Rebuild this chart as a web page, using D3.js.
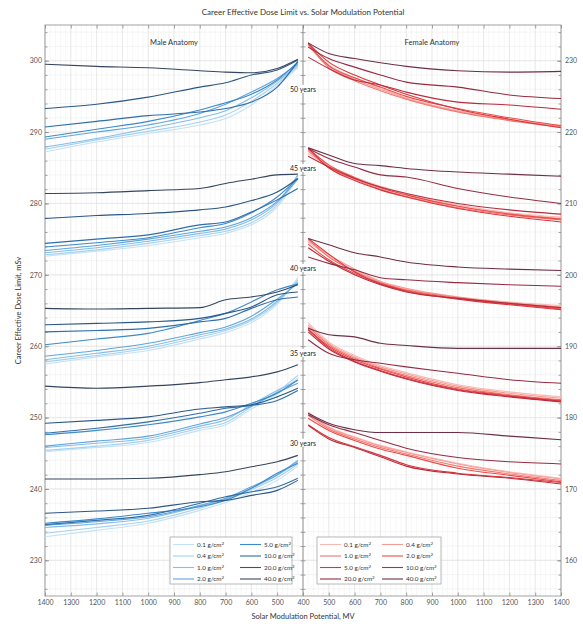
<!DOCTYPE html>
<html>
<head>
<meta charset="utf-8">
<script src="https://cdn.jsdelivr.net/npm/d3@7"></script>
<style>
body { margin: 0; background: #fff; }
text { font-family: Lato, "Open Sans", sans-serif; }
</style>
</head>
<body>
<svg id="chart" width="583" height="624"></svg>
<script>
// solar modulation potential (MV) where each curve is sampled
var mv = [420, 500, 600, 700, 800, 1000, 1200, 1400];
var shielding = ["0.1", "0.4", "1.0", "2.0", "5.0", "10.0", "20.0", "40.0"];
var ages = [50, 45, 40, 35, 30];
var ageLabelMale = [296.0, 284.9, 270.9, 259.0, 246.4];

var mvTicks = [1400, 1300, 1200, 1100, 1000, 900, 800, 700, 600, 500, 400];
var maleTicks = [230, 240, 250, 260, 270, 280, 290, 300];
var femaleTicks = [160, 170, 180, 190, 200, 210, 220, 230];

// male anatomy, rows = shielding 0.1 .. 40.0 g/cm2
var male50 = [
  [299.0, 296.5, 293.8, 291.9, 291.0, 289.8, 288.6, 287.2],
  [299.2, 296.8, 294.3, 292.4, 291.4, 290.1, 288.9, 287.6],
  [299.4, 297.1, 294.8, 293.0, 292.0, 290.5, 289.1, 287.9],
  [299.6, 297.5, 295.6, 293.9, 292.6, 291.0, 290.0, 289.0],
  [299.8, 297.3, 295.3, 294.1, 293.1, 291.5, 290.4, 289.3],
  [299.9, 296.3, 294.2, 293.3, 292.8, 292.3, 291.5, 290.7],
  [300.1, 298.7, 298.0, 296.9, 296.3, 294.9, 293.9, 293.3],
  [300.2, 298.9, 298.3, 298.4, 298.6, 299.0, 299.2, 299.5]
];
var male45 = [
  [283.6, 279.5, 277.0, 275.8, 275.2, 274.1, 273.3, 272.6],
  [283.8, 279.8, 277.3, 276.1, 275.5, 274.4, 273.5, 272.8],
  [284.0, 280.1, 277.7, 276.4, 275.8, 274.7, 273.8, 273.1],
  [283.4, 280.3, 278.0, 276.7, 276.1, 275.0, 274.1, 273.4],
  [283.5, 280.9, 278.7, 277.2, 276.6, 275.2, 274.5, 273.9],
  [282.1, 280.5, 278.8, 277.4, 277.0, 275.6, 275.0, 274.4],
  [283.5, 281.6, 280.4, 279.5, 279.1, 278.6, 278.3, 277.9],
  [284.1, 284.0, 283.4, 282.8, 282.1, 281.8, 281.5, 281.4]
];
var male40 = [
  [269.6, 265.9, 263.3, 261.9, 261.0, 259.4, 258.5, 257.5],
  [269.3, 266.1, 263.6, 262.2, 261.3, 259.7, 258.7, 257.8],
  [269.0, 266.3, 263.8, 262.4, 261.6, 260.0, 259.0, 258.1],
  [268.8, 266.6, 264.2, 262.7, 261.9, 260.4, 259.4, 258.6],
  [268.7, 267.9, 266.2, 264.6, 263.6, 261.8, 261.0, 260.2],
  [266.9, 266.5, 265.3, 263.9, 263.4, 262.5, 262.2, 262.0],
  [267.6, 267.2, 265.5, 264.6, 263.9, 263.4, 263.2, 263.0],
  [268.6, 267.6, 266.9, 266.5, 265.4, 265.3, 265.2, 265.3]
];
var male35 = [
  [255.6, 253.3, 251.2, 249.0, 248.2, 246.5, 245.8, 245.2],
  [255.9, 253.6, 251.5, 249.3, 248.5, 246.8, 246.0, 245.4],
  [255.2, 253.8, 251.8, 249.7, 248.8, 247.1, 246.4, 245.8],
  [254.8, 253.5, 251.6, 250.0, 249.1, 247.4, 246.7, 246.0],
  [255.3, 253.4, 252.0, 250.8, 250.1, 249.0, 248.2, 247.6],
  [253.8, 252.4, 251.7, 251.3, 250.6, 249.4, 248.5, 247.8],
  [254.1, 252.9, 251.8, 251.5, 251.2, 250.1, 249.6, 249.2],
  [257.4, 256.4, 255.7, 255.3, 254.9, 254.4, 254.1, 254.4]
];
var male30 = [
  [243.2, 241.2, 239.5, 238.1, 237.0, 235.2, 234.2, 233.3],
  [243.5, 241.6, 239.9, 238.4, 237.3, 235.5, 234.6, 233.8],
  [243.8, 241.9, 240.1, 238.6, 237.6, 235.9, 235.1, 234.6],
  [244.0, 242.0, 240.3, 238.7, 237.7, 236.1, 235.4, 234.9],
  [243.6, 242.2, 240.1, 238.4, 237.5, 236.6, 235.8, 235.2],
  [241.5, 240.3, 239.6, 238.9, 238.0, 236.3, 235.6, 235.0],
  [241.2, 239.8, 239.1, 238.4, 238.2, 237.3, 236.9, 236.6],
  [244.7, 243.8, 243.1, 242.4, 242.0, 241.5, 241.4, 241.4]
];

// female anatomy
var female50 = [
  [232.0, 229.4, 227.6, 226.2, 224.8, 223.0, 221.8, 220.9],
  [232.2, 229.2, 227.4, 226.0, 224.7, 222.9, 221.7, 220.8],
  [232.3, 229.0, 227.2, 225.8, 224.6, 222.8, 221.6, 220.7],
  [232.4, 229.3, 227.6, 226.3, 225.0, 223.3, 222.0, 220.9],
  [232.5, 229.8, 228.0, 226.6, 225.3, 223.2, 221.8, 220.6],
  [230.5, 228.9, 227.3, 226.6, 225.6, 224.2, 223.8, 223.2],
  [231.9, 230.3, 229.1, 228.0, 227.0, 226.3, 225.2, 224.7],
  [232.5, 231.0, 230.3, 229.7, 229.2, 228.6, 228.4, 228.5]
];
var female45 = [
  [217.0, 215.3, 213.7, 212.4, 211.4, 209.8, 208.7, 208.1],
  [217.3, 215.2, 213.6, 212.2, 211.2, 209.6, 208.6, 207.9],
  [217.5, 215.0, 213.4, 212.0, 211.0, 209.4, 208.4, 207.7],
  [217.7, 215.4, 213.6, 212.2, 211.2, 209.6, 208.5, 207.8],
  [217.8, 215.0, 213.2, 211.9, 210.9, 209.3, 208.2, 207.4],
  [216.6, 215.1, 213.5, 212.3, 211.4, 210.0, 209.1, 208.5],
  [217.7, 216.3, 215.1, 214.0, 213.7, 212.1, 210.9, 210.0],
  [217.8, 216.8, 215.6, 215.3, 214.9, 214.4, 214.1, 213.8]
];
var female40 = [
  [204.6, 202.6, 200.6, 199.0, 198.0, 196.9, 196.2, 195.7],
  [204.8, 202.8, 200.8, 199.1, 198.1, 196.9, 196.1, 195.5],
  [205.0, 202.5, 200.5, 198.9, 197.9, 196.8, 196.0, 195.3],
  [204.3, 202.1, 200.2, 198.8, 197.8, 196.7, 195.9, 195.2],
  [205.1, 202.9, 200.4, 198.7, 197.7, 196.6, 195.8, 195.1],
  [203.8, 201.9, 200.0, 198.6, 197.6, 196.7, 196.0, 195.4],
  [202.5, 201.6, 200.7, 199.6, 199.3, 198.9, 198.6, 198.4],
  [205.1, 204.2, 203.1, 202.5, 201.8, 201.1, 200.8, 200.6]
];
var female35 = [
  [193.3, 190.6, 188.7, 187.3, 186.3, 184.6, 183.6, 182.9],
  [193.0, 190.4, 188.5, 187.1, 186.1, 184.4, 183.4, 182.7],
  [192.7, 190.2, 188.3, 186.9, 185.9, 184.2, 183.2, 182.5],
  [192.4, 190.0, 188.1, 186.8, 185.7, 184.0, 183.1, 182.4],
  [192.3, 189.8, 187.9, 186.6, 185.5, 183.9, 183.0, 182.3],
  [192.0, 189.6, 187.8, 186.5, 185.4, 183.8, 182.9, 182.2],
  [190.9, 189.0, 188.1, 187.6, 187.1, 186.2, 185.3, 184.8],
  [192.5, 191.6, 191.3, 190.4, 190.1, 189.7, 189.7, 189.7]
];
var female30 = [
  [180.8, 178.7, 177.3, 176.1, 175.2, 173.6, 172.4, 171.5],
  [180.6, 178.6, 177.2, 176.0, 175.1, 173.5, 172.3, 171.4],
  [180.3, 178.4, 177.0, 175.8, 174.9, 173.2, 172.1, 171.2],
  [179.9, 178.2, 176.8, 175.6, 174.7, 172.9, 171.9, 171.0],
  [179.0, 177.2, 175.9, 174.7, 173.4, 172.2, 171.6, 170.9],
  [178.9, 177.0, 175.8, 174.5, 173.2, 172.1, 171.5, 170.7],
  [180.4, 179.0, 177.9, 176.8, 175.7, 174.4, 173.8, 173.5],
  [180.6, 179.2, 178.3, 177.9, 177.9, 177.9, 177.4, 176.9]
];

var maleColors = ["#c4e2f6", "#a5d1f0", "#84bde8", "#5fa5dc", "#3d8aca", "#2f6ea8", "#2b5786", "#34465f"];
var femaleColors = ["#fbb8b2", "#f79a93", "#f3756f", "#ec4c48", "#d8343a", "#b92c3d", "#962b43", "#6e2e48"];

var maleGroups = [male50, male45, male40, male35, male30];
var femaleGroups = [female50, female45, female40, female35, female30];

var svg = d3.select("#chart");
var plotTop = 25, plotBottom = 596, plotLeft = 45, plotMid = 303, plotRight = 561;

var xMale = d3.scaleLinear().domain([1400, 400]).range([plotLeft, plotMid]);
var xFemale = d3.scaleLinear().domain([400, 1400]).range([plotMid, plotRight]);
var yMale = d3.scaleLinear().domain([225, 305]).range([plotBottom, plotTop]);
var yFemale = d3.scaleLinear().domain([155, 235]).range([plotBottom, plotTop]);

var axisColor = "#8c8c8c";
var fmt = d3.format("d");

function drawGrid(x, y) {
  var g = svg.append("g");
  g.selectAll(".vminor").data(d3.range(400, 1401, 20))
    .enter().append("line")
    .attr("x1", function(d) { return x(d) }).attr("x2", function(d) { return x(d) })
    .attr("y1", plotTop).attr("y2", plotBottom)
    .style("stroke", "#f2f2f2").style("stroke-width", 0.6);
  g.selectAll(".hminor").data(d3.range(y.domain()[0] + 1, y.domain()[1], 2))
    .enter().append("line")
    .attr("x1", x.range()[0]).attr("x2", x.range()[1])
    .attr("y1", function(d) { return y(d) }).attr("y2", function(d) { return y(d) })
    .style("stroke", "#efefef").style("stroke-width", 0.6);
  g.selectAll(".vmajor").data(d3.range(400, 1401, 100))
    .enter().append("line")
    .attr("x1", function(d) { return x(d) }).attr("x2", function(d) { return x(d) })
    .attr("y1", plotTop).attr("y2", plotBottom)
    .style("stroke", "#e3e3e3").style("stroke-width", 0.7);
  g.selectAll(".hmajor").data(d3.range(y.domain()[0] + 5, y.domain()[1], 10))
    .enter().append("line")
    .attr("x1", x.range()[0]).attr("x2", x.range()[1])
    .attr("y1", function(d) { return y(d) }).attr("y2", function(d) { return y(d) })
    .style("stroke", "#e3e3e3").style("stroke-width", 0.7);
}

drawGrid(xMale, yMale);
drawGrid(xFemale, yFemale);

function styleAxis(g) {
  g.select(".domain").remove();
  g.selectAll("line").style("stroke", axisColor).style("stroke-width", 0.8);
  g.selectAll("text").style("fill", "#555").style("font-size", "7px")
    .style("font-family", "Lato, 'Open Sans', sans-serif");
}

// bottom axes (400 label shared at the divider)
svg.append("g").attr("transform", "translate(0," + plotBottom + ")")
  .call(d3.axisBottom(xMale).tickValues(mvTicks).tickFormat(fmt).tickSize(-3.5).tickPadding(4))
  .call(styleAxis);
svg.append("g").attr("transform", "translate(0," + plotBottom + ")")
  .call(d3.axisBottom(xFemale).tickValues(mvTicks.filter(function(d) { return d > 400 })).tickFormat(fmt).tickSize(-3.5).tickPadding(4))
  .call(styleAxis);
// top axes, ticks only
svg.append("g").attr("transform", "translate(0," + plotTop + ")")
  .call(d3.axisTop(xMale).tickValues(mvTicks).tickSize(-3.5).tickFormat(""))
  .call(styleAxis);
svg.append("g").attr("transform", "translate(0," + plotTop + ")")
  .call(d3.axisTop(xFemale).tickValues(mvTicks).tickSize(-3.5).tickFormat(""))
  .call(styleAxis);

// left axis (male)
svg.append("g").attr("transform", "translate(" + plotLeft + ",0)")
  .call(d3.axisLeft(yMale).tickValues(d3.range(226, 305, 2)).tickSize(-2.5).tickFormat(""))
  .call(styleAxis);
svg.append("g").attr("transform", "translate(" + plotLeft + ",0)")
  .call(d3.axisLeft(yMale).tickValues(maleTicks).tickFormat(fmt).tickSize(-4).tickPadding(3))
  .call(styleAxis);
// right axis (female)
svg.append("g").attr("transform", "translate(" + plotRight + ",0)")
  .call(d3.axisRight(yFemale).tickValues(d3.range(156, 235, 2)).tickSize(-2.5).tickFormat(""))
  .call(styleAxis);
svg.append("g").attr("transform", "translate(" + plotRight + ",0)")
  .call(d3.axisRight(yFemale).tickValues(femaleTicks).tickFormat(fmt).tickSize(-4).tickPadding(4))
  .call(styleAxis);
// divider with ticks both sides
svg.append("g").attr("transform", "translate(" + plotMid + ",0)")
  .call(d3.axisRight(yMale).tickValues(d3.range(226, 305, 2)).tickSize(2.5).tickFormat(""))
  .call(styleAxis);
svg.append("g").attr("transform", "translate(" + plotMid + ",0)")
  .call(d3.axisLeft(yMale).tickValues(d3.range(226, 305, 2)).tickSize(2.5).tickFormat(""))
  .call(styleAxis);

// frame and divider
svg.append("rect").attr("x", plotLeft).attr("y", plotTop)
  .attr("width", plotRight - plotLeft).attr("height", plotBottom - plotTop)
  .style("fill", "none").style("stroke", axisColor).style("stroke-width", 0.8);
svg.append("line").attr("x1", plotMid).attr("x2", plotMid).attr("y1", plotTop).attr("y2", plotBottom)
  .style("stroke", axisColor).style("stroke-width", 0.8);

// curves
function drawPanel(groups, x, y, colors) {
  var line = d3.line()
    .x(function(d, i) { return x(mv[i]) })
    .y(function(d) { return y(d) })
    .curve(d3.curveMonotoneX);
  groups.forEach(function(group) {
    svg.append("g").selectAll("path")
      .data(group)
      .enter().append("path")
      .attr("d", line)
      .style("fill", "none")
      .style("stroke", function(d, i) { return colors[i] })
      .style("stroke-width", 1.1);
  });
}
drawPanel(maleGroups, xMale, yMale, maleColors);
drawPanel(femaleGroups, xFemale, yFemale, femaleColors);

// age labels
ages.forEach(function(a, i) {
  var lab = svg.append("g").attr("transform", "translate(" + plotMid + "," + yMale(ageLabelMale[i]) + ")");
  lab.append("rect").attr("x", -14).attr("y", -4.5).attr("width", 28).attr("height", 8).style("fill", "#fff");
  lab.append("text").attr("text-anchor", "middle").attr("dy", "0.35em")
    .style("font-size", "7px").style("fill", "#222").text(a + " years");
});

// titles
svg.append("text").attr("x", plotMid).attr("y", 15).attr("text-anchor", "middle")
  .style("font-size", "8px").style("fill", "#333")
  .text("Career Effective Dose Limit vs. Solar Modulation Potential");
svg.append("text").attr("x", (plotLeft + plotMid) / 2).attr("y", 45).attr("text-anchor", "middle")
  .style("font-size", "7.5px").style("fill", "#333").text("Male Anatomy");
svg.append("text").attr("x", (plotMid + plotRight) / 2).attr("y", 45).attr("text-anchor", "middle")
  .style("font-size", "7.5px").style("fill", "#333").text("Female Anatomy");
svg.append("text").attr("x", plotMid).attr("y", 619).attr("text-anchor", "middle")
  .style("font-size", "7.5px").style("fill", "#333").text("Solar Modulation Potential, MV");
svg.append("text").attr("transform", "translate(21," + ((plotTop + plotBottom) / 2) + ") rotate(-90)")
  .attr("text-anchor", "middle")
  .style("font-size", "7.5px").style("fill", "#333").text("Career Effective Dose Limit, mSv");

// legends
function drawLegend(bx, by, bw, bh, colors, colX, rowMajor) {
  var g = svg.append("g").attr("transform", "translate(" + bx + "," + by + ")");
  g.append("rect").attr("width", bw).attr("height", bh)
    .style("fill", "#fff").style("stroke", "#9a9a9a").style("stroke-width", 0.7);
  var item = g.selectAll(".item").data(shielding).enter().append("g")
    .attr("transform", function(d, i) {
      var c = rowMajor ? i % 2 : Math.floor(i / 4);
      var r = rowMajor ? Math.floor(i / 2) : i % 4;
      return "translate(" + colX[c] + "," + (7.5 + r * 11.5) + ")";
    });
  item.append("line").attr("x1", 0).attr("x2", 21)
    .style("stroke", function(d, i) { return colors[i] }).style("stroke-width", 1.1);
  var t = item.append("text").attr("x", 24).attr("dy", "0.35em")
    .style("font-size", "6.3px").style("fill", "#333");
  t.append("tspan").text(function(d) { return d + " g/cm" });
  t.append("tspan").attr("dy", "-0.45em").style("font-size", "4.5px").text("2");
}
drawLegend(170, 537, 122, 47, maleColors, [3, 70], false);
drawLegend(317, 537, 124, 47, femaleColors, [3, 65], true);
</script>
</body>
</html>
